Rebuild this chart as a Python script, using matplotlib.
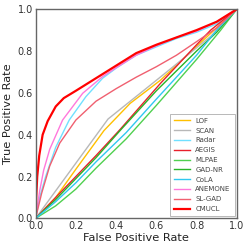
import matplotlib
matplotlib.use("Agg")
import matplotlib.pyplot as plt

# ROC points (fpr, tpr)
lof_fpr = [0, 0.1, 0.2, 0.34, 0.47, 0.62, 0.82, 1]
lof_tpr = [0, 0.1, 0.235, 0.42, 0.55, 0.66, 0.84, 1]
scan_fpr = [0, 0.36, 0.6, 0.87, 1]
scan_tpr = [0, 0.475, 0.66, 0.87, 1]
radar_fpr = [0, 0.02, 0.05, 0.1, 0.167, 0.25, 0.333, 0.4, 0.5, 0.6, 0.7, 0.8, 0.9, 1]
radar_tpr = [0, 0.1, 0.2, 0.34, 0.47, 0.582, 0.67, 0.718, 0.78, 0.82, 0.86, 0.89, 0.93, 1]
aegis_fpr = [0, 0.1, 0.2, 0.3, 0.42, 0.62, 0.8, 0.87, 1]
aegis_tpr = [0, 0.1, 0.2, 0.3, 0.425, 0.645, 0.83, 0.9, 1]
mlpae_fpr = [0, 0.1, 0.2, 0.3, 0.45, 0.6, 0.8, 0.92, 1]
mlpae_tpr = [0, 0.06, 0.14, 0.24, 0.38, 0.54, 0.76, 0.9, 1]
gadnr_fpr = [0, 0.1, 0.2, 0.3, 0.42, 0.6, 0.8, 0.9, 1]
gadnr_tpr = [0, 0.09, 0.19, 0.29, 0.42, 0.61, 0.8, 0.89, 1]
cola_fpr = [0, 0.1, 0.2, 0.3, 0.45, 0.6, 0.8, 0.9, 1]
cola_tpr = [0, 0.08, 0.17, 0.27, 0.41, 0.57, 0.78, 0.9, 1]
anemone_fpr = [0, 0.02, 0.04, 0.07, 0.134, 0.234, 0.333, 0.4, 0.5, 0.6, 0.7, 0.8, 0.9, 1]
anemone_tpr = [0, 0.13, 0.23, 0.33, 0.47, 0.598, 0.678, 0.72, 0.78, 0.825, 0.865, 0.895, 0.94, 1]
slgad_fpr = [0, 0.03, 0.07, 0.12, 0.2, 0.3, 0.4, 0.5, 0.6, 0.7, 0.8, 0.9, 1]
slgad_tpr = [0, 0.12, 0.25, 0.36, 0.47, 0.56, 0.62, 0.675, 0.725, 0.78, 0.845, 0.91, 1]
cmucl_fpr = [0, 0.003, 0.008, 0.018, 0.035, 0.06, 0.1, 0.14, 0.2, 0.3, 0.4, 0.5, 0.6, 0.7, 0.8, 0.9, 1]
cmucl_tpr = [0, 0.1, 0.2, 0.3, 0.4, 0.465, 0.535, 0.575, 0.61, 0.67, 0.73, 0.79, 0.83, 0.865, 0.9, 0.94, 1]

curves = [
    ("LOF", lof_fpr, lof_tpr, "#ffc000", 1.0),
    ("SCAN", scan_fpr, scan_tpr, "#b8b8b8", 1.0),
    ("Radar", radar_fpr, radar_tpr, "#70e0ff", 1.0),
    ("AEGIS", aegis_fpr, aegis_tpr, "#e8202c", 1.0),
    ("MLPAE", mlpae_fpr, mlpae_tpr, "#50d050", 1.0),
    ("GAD-NR", gadnr_fpr, gadnr_tpr, "#28b428", 1.0),
    ("CoLA", cola_fpr, cola_tpr, "#30c8f0", 1.0),
    ("ANEMONE", anemone_fpr, anemone_tpr, "#ff78dc", 1.0),
    ("SL-GAD", slgad_fpr, slgad_tpr, "#f06070", 1.0),
    ("CMUCL", cmucl_fpr, cmucl_tpr, "#ff0000", 1.6),
]

fig = plt.figure(figsize=(2.49, 2.49), dpi=100)
ax = fig.add_axes([0.143, 0.123, 0.808, 0.840])

for name, fx, ty, color, lw in curves:
    ax.plot(fx, ty, color=color, lw=lw, label=name)

ax.set_xlim(0, 1)
ax.set_ylim(0, 1)
ax.set_xticks([0, 0.2, 0.4, 0.6, 0.8, 1.0])
ax.set_yticks([0, 0.2, 0.4, 0.6, 0.8, 1.0])
ax.tick_params(length=0, labelsize=7, labelcolor="#333333", pad=2)
for s in ax.spines.values():
    s.set_color("#666666")
    s.set_linewidth(1.0)
ax.set_xlabel("False Positive Rate", fontsize=8.2, color="#222222", labelpad=1)
ax.set_ylabel("True Positive Rate", fontsize=8.2, color="#222222", labelpad=3)

leg = ax.legend(loc="lower right", fontsize=5, frameon=True, fancybox=False,
                handlelength=2.2, labelspacing=0.55, borderpad=0.6,
                handletextpad=0.8, borderaxespad=0.3)
leg.get_frame().set_edgecolor("#999999")
leg.get_frame().set_linewidth(0.6)
for t in leg.get_texts():
    t.set_color("#444444")

fig.savefig("out.png", dpi=100)
